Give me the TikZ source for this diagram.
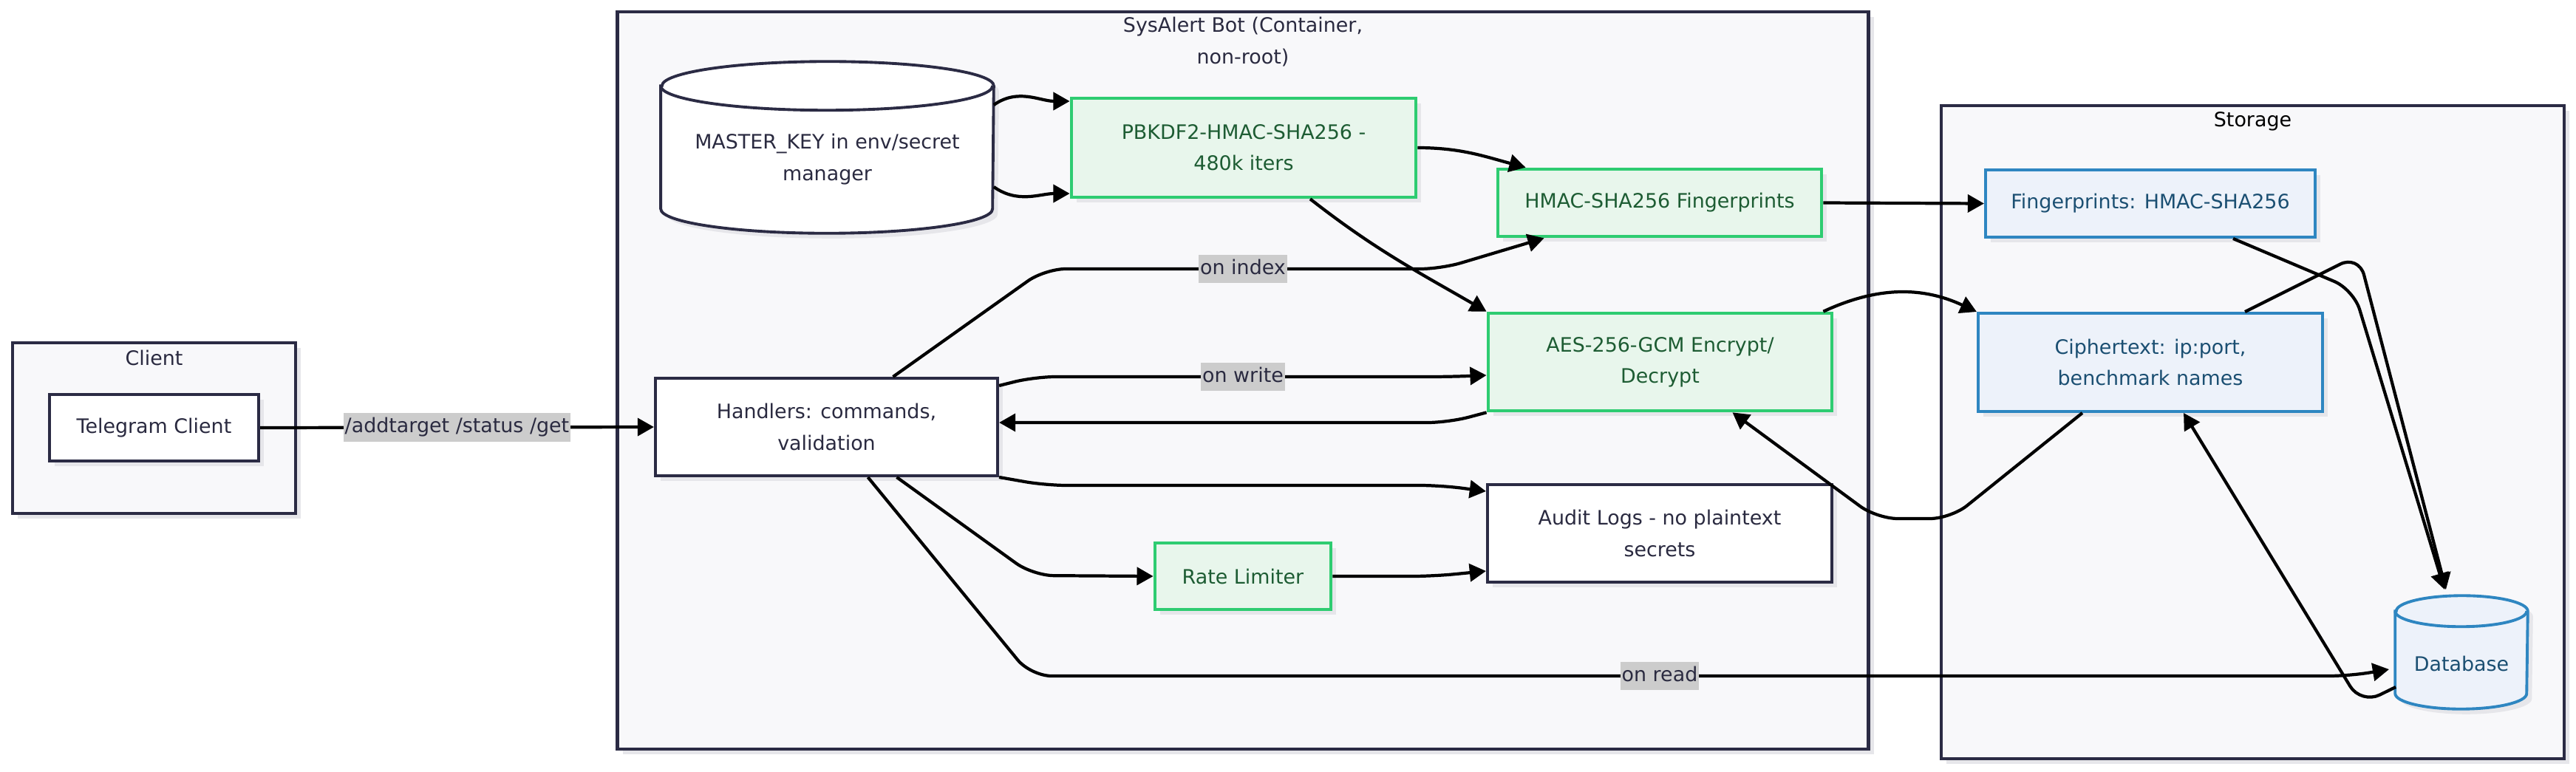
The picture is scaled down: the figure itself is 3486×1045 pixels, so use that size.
\documentclass[tikz,border=0pt]{standalone}
\usepackage{fontspec}
\setmainfont{DejaVu Sans}
\usepackage{tikz}
\usetikzlibrary{positioning, arrows.meta, shapes.geometric, shadows, calc}

\definecolor{boxline}{HTML}{2B2B44}
\definecolor{groupfill}{HTML}{F8F8FA}
\definecolor{inktext}{HTML}{2A2A40}
\definecolor{greenline}{HTML}{2ECC71}
\definecolor{greenfill}{HTML}{E8F6EC}
\definecolor{greentext}{HTML}{1D5C33}
\definecolor{blueline}{HTML}{2E86C1}
\definecolor{bluefill}{HTML}{EDF2FA}
\definecolor{bluetext}{HTML}{1B4F72}
\definecolor{labelgray}{HTML}{CCCCCC}
\definecolor{shadowgray}{HTML}{E6E6EA}

\tikzset{
    boxshadow/.style={drop shadow={shadow xshift=2pt, shadow yshift=-2pt, fill=shadowgray, opacity=1}},
    group/.style={rectangle, draw=boxline, fill=groupfill, line width=1.2pt, boxshadow},
    grouptitle/.style={text=inktext, align=center},
    plain/.style={rectangle, draw=boxline, fill=white, line width=1.1pt, text=inktext, align=center, boxshadow},
    crypto/.style={rectangle, draw=greenline, fill=greenfill, line width=1.3pt, text=greentext, align=center, boxshadow},
    store/.style={rectangle, draw=blueline, fill=bluefill, line width=1.1pt, text=bluetext, align=center, boxshadow},
    drumbox/.style={rectangle, inner sep=0pt},
    vaultline/.style={draw=boxline, fill=white, line width=1.1pt},
    dbline/.style={draw=blueline, fill=bluefill, line width=1.1pt},
    flow/.style={-{Triangle[length=6.3pt, width=6.8pt]}, line width=1.2pt, black, rounded corners=8pt},
    tag/.style={fill=labelgray, text=inktext, inner xsep=0.5pt, inner ysep=1.5pt, text height=6pt, text depth=2pt, rounded corners=0pt}
}

\begin{document}
\begin{tikzpicture}[x=0.01cm, y=0.01cm, font=\fontsize{7.65}{12}\selectfont]
    \path[use as bounding box, fill=white] (0,0) rectangle (3486,-1045);

    % Groups
    \node (clientgrp) [group, minimum width=3.83cm, minimum height=2.31cm] at (208.5,-579.5) {};
    \node (botgrp) [group, minimum width=16.92cm, minimum height=9.98cm] at (1682,-515) {};
    \node (storegrp) [group, minimum width=8.43cm, minimum height=8.84cm] at (3048.5,-585) {};
    \node [grouptitle] at ($(clientgrp.north)+(0,-23)$) {Client};
    \node [grouptitle] at ($(botgrp.north)+(0,-43)$) {SysAlert Bot (Container,\\non-root)};
    \node [grouptitle, text=black] at ($(storegrp.north)+(0,-24)$) {Storage};

    % Cylinders
    \node (mk) [drumbox, minimum width=4.49cm, minimum height=2.31cm] at (1119.5,-199.5) {};
    \draw[vaultline, boxshadow] ($(mk.north west)+(0,-33)$) -- ($(mk.south west)+(0,33)$)
        arc[start angle=180, end angle=360, x radius=224.5, y radius=33] -- ($(mk.north east)+(0,-33)$)
        arc[start angle=0, end angle=180, x radius=224.5, y radius=33] -- cycle;
    \draw[vaultline, fill=none] ($(mk.north west)+(0,-33)$) arc[start angle=180, end angle=360, x radius=224.5, y radius=33];
    \node [text=inktext, align=center] at ($(mk.center)+(0,-16)$) {MASTER\_KEY in env/secret\\manager};

    \node (db) [drumbox, minimum width=1.78cm, minimum height=1.52cm] at (3331,-883) {};
    \draw[dbline, boxshadow] ($(db.north west)+(0,-21)$) -- ($(db.south west)+(0,21)$)
        arc[start angle=180, end angle=360, x radius=89, y radius=21] -- ($(db.north east)+(0,-21)$)
        arc[start angle=0, end angle=180, x radius=89, y radius=21] -- cycle;
    \draw[dbline, fill=none] ($(db.north west)+(0,-21)$) arc[start angle=180, end angle=360, x radius=89, y radius=21];
    \node [text=bluetext] at ($(db.center)+(0,-15)$) {Database};

    % Nodes
    \node (tg) [plain, minimum width=2.83cm, minimum height=0.90cm] at (208.5,-579) {Telegram Client};
    \node (kdf) [crypto, minimum width=4.66cm, minimum height=1.34cm] at (1683,-200) {PBKDF2-HMAC-SHA256 -\\480k iters};
    \node (hmac) [crypto, minimum width=4.38cm, minimum height=0.91cm] at (2246,-274.5) {HMAC-SHA256 Fingerprints};
    \node (aes) [crypto, minimum width=4.65cm, minimum height=1.32cm] at (2246.5,-490) {AES-256-GCM Encrypt/\\Decrypt};
    \node (handlers) [plain, minimum width=4.63cm, minimum height=1.32cm] at (1118.5,-578) {Handlers: commands,\\validation};
    \node (audit) [plain, minimum width=4.66cm, minimum height=1.32cm] at (2246,-722) {Audit Logs - no plaintext\\secrets};
    \node (rate) [crypto, minimum width=2.38cm, minimum height=0.90cm] at (1682,-780) {Rate Limiter};
    \node (fp) [store, minimum width=4.46cm, minimum height=0.91cm] at (2910,-275.5) {Fingerprints: HMAC-SHA256};
    \node (ct) [store, minimum width=4.66cm, minimum height=1.33cm] at (2910,-490.5) {Ciphertext: ip:port,\\benchmark names};

    % Arrows
    \draw[flow] (tg.east) -- node[tag] {/addtarget /status /get} (handlers.west);
    \draw[flow] ($(mk.east)+(0,57.5)$) to[out=35, in=180] ($(kdf.west)+(0,63)$);
    \draw[flow] ($(mk.east)+(0,-53.5)$) to[out=-35, in=180] ($(kdf.west)+(0,-62)$);
    \draw[flow] (kdf.east) to[out=0, in=165] ($(hmac.north west)+(40,0)$);
    \draw[flow] ($(kdf.south)+(90,0)$) to[out=-38, in=150] (aes.north west);
    \draw[flow] ($(handlers.north)+(90,0)$) -- (1414,-364) -- node[tag] {on index} (1950,-364) -- ($(hmac.south west)+(65,0)$);
    \draw[flow] ($(handlers.east)+(0,56)$) -- (1400,-510) -- node[tag] {on write} (1964,-510) -- ($(aes.west)+(0,-18)$);
    \draw[flow] (aes.south west) -- (1960,-572) -- ($(handlers.east)+(0,6)$);
    \draw[flow] (handlers.south east) -- (1415,-657) -- (1950,-657) -- ($(audit.west)+(0,57)$);
    \draw[flow] ($(handlers.south)+(95,0)$) -- (1398,-779) -- (rate.west);
    \draw[flow] (rate.east) -- (1940,-780) -- ($(audit.west)+(0,-51)$);
    \draw[flow] ($(handlers.south)+(56,0)$) -- (1395,-915) -- node[tag] {on read} (3097,-915) -- (3180,-915) -- ($(db.center)+(-98,-23)$);
    \draw[flow] (hmac.east) -- (fp.west);
    \draw[flow] ($(aes.north east)+(-14,0)$) to[out=25, in=155] (ct.north west);
    \draw[flow] ($(ct.south west)+(143,0)$) -- (2640,-702) -- (2540,-702) -- ($(aes.south)+(98,0)$);
    \draw[flow] ($(fp.south)+(112,0)$) -- (3185,-392) -- ($(db.center)+(-23,85)$);
    \draw[flow] ($(ct.north)+(128,0)$) -- (3192,-345) -- ($(db.center)+(-21,85)$);
    \draw[flow] ($(db.center)+(-89,-47)$) -- (3195,-953) -- ($(ct.south)+(45,0)$);
\end{tikzpicture}
\end{document}
